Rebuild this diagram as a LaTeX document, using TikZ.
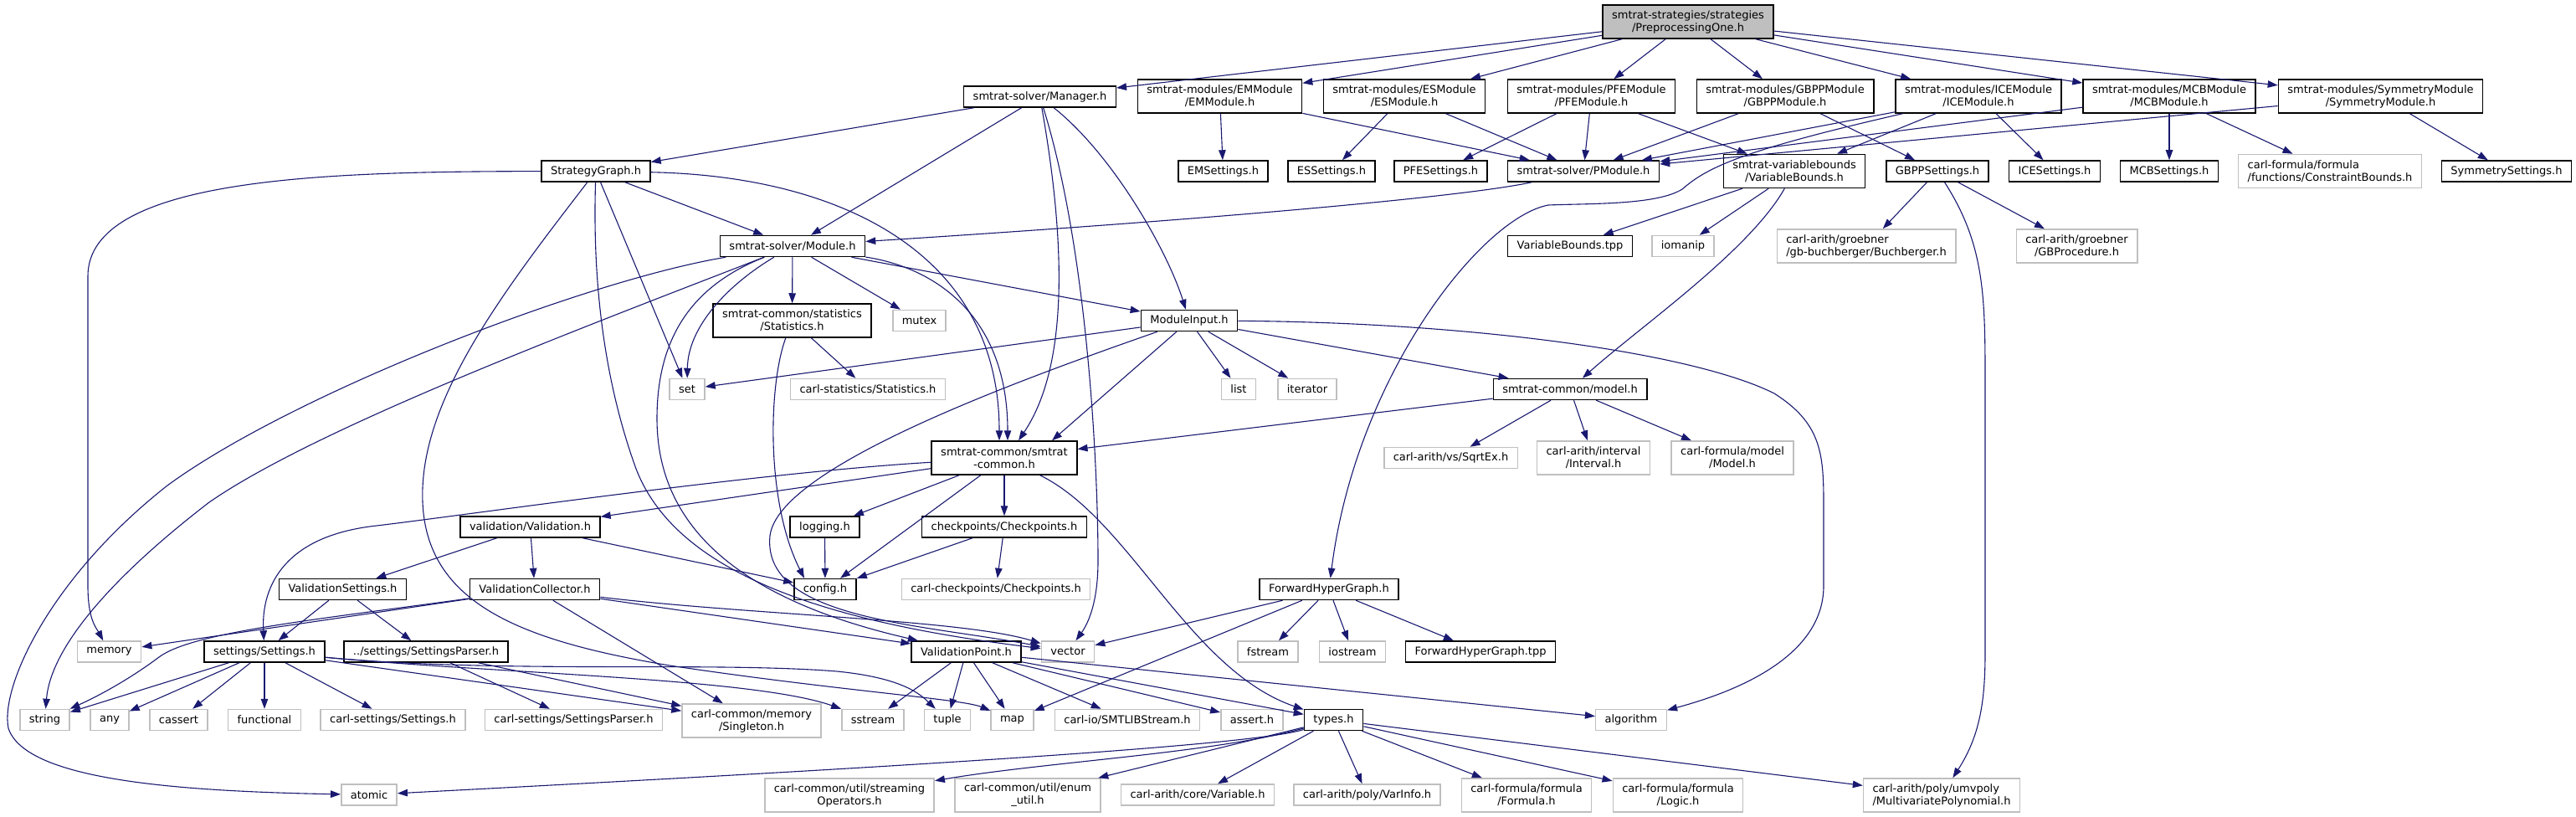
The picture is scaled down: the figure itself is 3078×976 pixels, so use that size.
\documentclass[tikz,border=0pt]{standalone}
\usepackage{fontspec}
\setmainfont{DejaVu Sans}
\usepackage{tikz}
\usetikzlibrary{arrows.meta,positioning}
\usepackage{xcolor}
\definecolor{edgeblue}{RGB}{25,25,112}
\definecolor{extgray}{RGB}{191,191,191}
\tikzset{
    hdr/.style={rectangle, draw=black, fill=white, line width=1.5pt,
                inner xsep=11pt, inner ysep=1pt, minimum height=25pt,
                align=center, font=\fontsize{13}{15}\selectfont},
    ext/.style={hdr, draw=extgray},
    cur/.style={hdr, fill=extgray},
    two/.style={minimum height=40pt},
    dep/.style={-{Triangle[length=12pt,width=8.5pt]}, line width=1.1pt, draw=edgeblue},
}

\begin{document}
\begin{tikzpicture}[x=1pt,y=-1pt]
    \useasboundingbox (0,0) rectangle (3078,976);

    % headers
    \node[cur,two] (p1)   at (2017,26)    {smtrat-strategies/strategies\\/PreprocessingOne.h};
    \node[hdr]     (mgr)  at (1242.5,115.5) {smtrat-solver/Manager.h};
    \node[hdr,two] (em)   at (1457.5,115) {smtrat-modules/EMModule\\/EMModule.h};
    \node[hdr,two] (es)   at (1678,115)   {smtrat-modules/ESModule\\/ESModule.h};
    \node[hdr,two] (pfe)  at (1901.5,115) {smtrat-modules/PFEModule\\/PFEModule.h};
    \node[hdr,two] (gbpp) at (2133,115)   {smtrat-modules/GBPPModule\\/GBPPModule.h};
    \node[hdr,two] (ice)  at (2364,115)   {smtrat-modules/ICEModule\\/ICEModule.h};
    \node[hdr,two] (mcb)  at (2592,115)   {smtrat-modules/MCBModule\\/MCBModule.h};
    \node[hdr,two] (sym)  at (2844.5,115) {smtrat-modules/SymmetryModule\\/SymmetryModule.h};

    \node[hdr]     (sg)      at (712,204.5)    {StrategyGraph.h};
    \node[hdr]     (ems)     at (1461.5,204.5) {EMSettings.h};
    \node[hdr]     (ess)     at (1591,204.5)   {ESSettings.h};
    \node[hdr]     (pfes)    at (1721.5,204.5) {PFESettings.h};
    \node[hdr]     (pmod)    at (1892,204.5)   {smtrat-solver/PModule.h};
    \node[hdr,two] (vb)      at (2144,204.5)   {smtrat-variablebounds\\/VariableBounds.h};
    \node[hdr]     (gbpps)   at (2315,204.5)   {GBPPSettings.h};
    \node[hdr]     (ices)    at (2455,204.5)   {ICESettings.h};
    \node[hdr]     (mcbs)    at (2592,204.5)   {MCBSettings.h};
    \node[ext,two,align=left] (cbounds) at (2784,204.5) {carl-formula/formula\\/functions/ConstraintBounds.h};
    \node[hdr]     (syms)    at (2995,204.5)   {SymmetrySettings.h};

    \node[hdr]     (mod)     at (947,294)    {smtrat-solver/Module.h};
    \node[hdr]     (vbtpp)   at (1876,294)   {VariableBounds.tpp};
    \node[ext]     (iomanip) at (2011,294)   {iomanip};
    \node[ext,two,align=left] (buch) at (2230,294) {carl-arith/groebner\\/gb-buchberger/Buchberger.h};
    \node[ext,two] (gbproc)  at (2481.5,294) {carl-arith/groebner\\/GBProcedure.h};

    \node[hdr,two] (stats)   at (946.5,383)  {smtrat-common/statistics\\/Statistics.h};
    \node[ext]     (mutex)   at (1098.5,383) {mutex};
    \node[hdr]     (minput)  at (1421,383)   {ModuleInput.h};

    \node[ext]     (set)      at (821,465)   {set};
    \node[ext]     (cstats)   at (1037,465)  {carl-statistics/Statistics.h};
    \node[ext]     (list)     at (1480,465)  {list};
    \node[ext]     (iterator) at (1562,465)  {iterator};
    \node[hdr]     (model)    at (1876,465)  {smtrat-common/model.h};

    \node[hdr,two] (common)   at (1200,547)   {smtrat-common/smtrat\\-common.h};
    \node[ext]     (sqrtex)   at (1733.5,547) {carl-arith/vs/SqrtEx.h};
    \node[ext,two] (interval) at (1904,547)   {carl-arith/interval\\/Interval.h};
    \node[ext,two] (cmodel)   at (2070,547)   {carl-formula/model\\/Model.h};

    \node[hdr]     (valid)    at (633.5,629.5) {validation/Validation.h};
    \node[hdr]     (logging)  at (985.5,629.5) {logging.h};
    \node[hdr]     (checkp)   at (1200,629.5)  {checkpoints/Checkpoints.h};

    \node[hdr]     (vsettings) at (409.5,704) {ValidationSettings.h};
    \node[hdr]     (vcoll)     at (639,704)   {ValidationCollector.h};
    \node[hdr]     (config)    at (986,704)   {config.h};
    \node[ext]     (ccheck)    at (1190,704)  {carl-checkpoints/Checkpoints.h};
    \node[hdr]     (fhg)       at (1588,704)  {ForwardHyperGraph.h};

    \node[ext]     (memory)   at (130.5,778.5)  {memory};
    \node[hdr]     (settings) at (316,778.5)    {settings/Settings.h};
    \node[hdr]     (sparser)  at (509,778.5)    {../settings/SettingsParser.h};
    \node[hdr]     (vpoint)   at (1154.5,778.5) {ValidationPoint.h};
    \node[ext]     (vector)   at (1276,778.5)   {vector};
    \node[ext]     (fstream)  at (1515,778.5)   {fstream};
    \node[ext]     (iostream) at (1616,778.5)   {iostream};
    \node[hdr]     (fhgtpp)   at (1769,778.5)   {ForwardHyperGraph.tpp};

    \node[ext]     (string)     at (53.5,860)  {string};
    \node[ext]     (any)        at (131,860)   {any};
    \node[ext]     (cassert)    at (213.5,860) {cassert};
    \node[ext]     (functional) at (316,860)   {functional};
    \node[ext]     (csettings)  at (469.5,860) {carl-settings/Settings.h};
    \node[ext]     (csparser)   at (685.5,860) {carl-settings/SettingsParser.h};
    \node[ext,two] (singleton)  at (898,861)   {carl-common/memory\\/Singleton.h};
    \node[ext]     (sstream)    at (1043,860)  {sstream};
    \node[ext]     (tuple)      at (1132,860)  {tuple};
    \node[ext]     (map)        at (1209.5,860) {map};
    \node[ext]     (smtlib)     at (1347,860)  {carl-io/SMTLIBStream.h};
    \node[ext]     (asserth)    at (1496,860)  {assert.h};
    \node[hdr]     (types)      at (1593.5,860) {types.h};
    \node[ext]     (algorithm)  at (1949,860)  {algorithm};

    \node[ext]     (atomic)   at (441,949.5)  {atomic};
    \node[ext,two] (streamop) at (1015,950)   {carl-common/util/streaming\\Operators.h};
    \node[ext,two] (enumutil) at (1228,950)   {carl-common/util/enum\\\_util.h};
    \node[ext]     (variable) at (1431,949.5) {carl-arith/core/Variable.h};
    \node[ext]     (varinfo)  at (1633.5,949.5) {carl-arith/poly/VarInfo.h};
    \node[ext,two] (formula)  at (1824,950)   {carl-formula/formula\\/Formula.h};
    \node[ext,two] (logic)    at (2005,950)   {carl-formula/formula\\/Logic.h};
    \node[ext,two,align=left] (mpoly) at (2320,950) {carl-arith/poly/umvpoly\\/MultivariatePolynomial.h};

    % includes of the strategy
    \draw[dep] (p1) -- (mgr);
    \draw[dep] (p1) -- (em);
    \draw[dep] (p1) -- (es);
    \draw[dep] (p1) -- (pfe);
    \draw[dep] (p1) -- (gbpp);
    \draw[dep] (p1) -- (ice);
    \draw[dep] (p1) -- (mcb);
    \draw[dep] (p1) -- (sym);

    \draw[dep] (mgr) -- (sg);
    \draw[dep] (mgr) -- (mod);
    \draw[dep] (mgr) .. controls (1275,300) and (1275,440) .. ([xshift=17pt]common.north);
    \draw[dep] (mgr) .. controls (1300,300) and (1312,560) .. (1312,670) .. controls (1312,720) and (1300,745) .. (vector);
    \draw[dep] (mgr) .. controls (1330,185) and (1395,300) .. (minput);

    % modules
    \draw[dep] (em) -- (ems);
    \draw[dep] (em) -- (pmod);
    \draw[dep] (es) -- (ess);
    \draw[dep] (es) -- (pmod);
    \draw[dep] (pfe) -- (pfes);
    \draw[dep] (pfe) -- (pmod);
    \draw[dep] (pfe) -- (vb);
    \draw[dep] (gbpp) -- (pmod);
    \draw[dep] (gbpp) -- (gbpps);
    \draw[dep] (ice) -- (pmod);
    \draw[dep] (ice) -- (vb);
    \draw[dep] (ice) -- (ices);
    \draw[dep] (ice) .. controls (2080,180) and (2040,200) .. (2010,226)
                     .. controls (1980,245) and (1900,243) .. (1850,245)
                     .. controls (1770,260) and (1620,450) .. (fhg);
    \draw[dep] (mcb) -- (pmod);
    \draw[dep] (mcb) -- (mcbs);
    \draw[dep] (mcb) -- (cbounds);
    \draw[dep] (sym) -- (pmod);
    \draw[dep] (sym) -- (syms);

    \draw[dep] (pmod) .. controls (1750,235) and (1450,262) .. (mod);
    \draw[dep] (vb) -- (vbtpp);
    \draw[dep] (vb) -- (iomanip);
    \draw[dep] (vb) .. controls (2090,300) and (1960,390) .. (model);
    \draw[dep] (gbpps) -- (buch);
    \draw[dep] (gbpps) -- (gbproc);
    \draw[dep] (gbpps) .. controls (2370,290) and (2372,350) .. (2372,450) -- (2372,780)
                       .. controls (2372,840) and (2365,880) .. (mpoly);

    % strategy graph
    \draw[dep] (sg) .. controls (400,205) and (105,210) .. (105,330) -- (105,700)
                    .. controls (105,740) and (115,750) .. (memory);
    \draw[dep] (sg) -- (mod);
    \draw[dep] (sg) -- (set);
    \draw[dep] (sg) .. controls (1000,210) and (1194,300) .. ([xshift=-6pt]common.north);
    \draw[dep] (sg) .. controls (708,330) and (720,450) .. (760,560)
                    .. controls (810,690) and (1000,745) .. (vector);
    \draw[dep] (sg) .. controls (600,350) and (500,480) .. (505,600)
                    .. controls (510,720) and (620,765) .. (800,795)
                    .. controls (1000,825) and (1150,835) .. (map);

    % solver module
    \draw[dep] (mod) -- (stats);
    \draw[dep] (mod) -- (mutex);
    \draw[dep] (mod) -- (minput);
    \draw[dep] (mod) .. controls (1120,320) and (1204,380) .. ([xshift=4pt]common.north);
    \draw[dep] (mod) .. controls (870,340) and (822,390) .. (set);
    \draw[dep] (mod) .. controls (700,390) and (380,510) .. (250,600)
                     .. controls (120,700) and (60,780) .. (string);
    \draw[dep] (mod) .. controls (700,335) and (350,470) .. (200,580)
                     .. controls (60,690) and (0,820) .. (10,870)
                     .. controls (30,930) and (200,945) .. (atomic);
    \draw[dep] (mod) .. controls (830,340) and (785,400) .. (785,500)
                     .. controls (785,640) and (900,720) .. (vpoint);

    \draw[dep] (stats) -- (cstats);
    \draw[dep] (stats) .. controls (918,460) and (915,600) .. ([xshift=-25pt]config.north);

    % module input
    \draw[dep] (minput) -- (set);
    \draw[dep] (minput) -- (list);
    \draw[dep] (minput) -- (iterator);
    \draw[dep] (minput) -- (model);
    \draw[dep] (minput) -- ([xshift=57pt]common.north);
    \draw[dep] (minput) .. controls (1200,460) and (930,560) .. (920,640)
                        .. controls (910,740) and (1100,745) .. (vector);
    \draw[dep] (minput) .. controls (1750,385) and (2020,420) .. (2120,470)
                        .. controls (2175,505) and (2179,540) .. (2179,600) -- (2179,700)
                        .. controls (2179,790) and (2060,830) .. (algorithm);

    \draw[dep] (model) -- (common);
    \draw[dep] (model) -- (sqrtex);
    \draw[dep] (model) -- (interval);
    \draw[dep] (model) -- (cmodel);

    % smtrat-common
    \draw[dep] (common) -- (valid);
    \draw[dep] (common) .. controls (900,565) and (560,615) .. (450,628)
                        .. controls (340,640) and (312,700) .. (settings);
    \draw[dep] (common) -- (logging);
    \draw[dep] (common) -- (checkp);
    \draw[dep] (common) -- (config);
    \draw[dep] (common) .. controls (1350,620) and (1420,800) .. (types);

    \draw[dep] (checkp) -- (config);
    \draw[dep] (checkp) -- (ccheck);
    \draw[dep] (logging) -- (config);

    % validation
    \draw[dep] (valid) -- (vsettings);
    \draw[dep] (valid) -- (vcoll);
    \draw[dep] (valid) -- (config);
    \draw[dep] (vsettings) -- (settings);
    \draw[dep] (vsettings) -- (sparser);
    \draw[dep] (vcoll) -- (memory);
    \draw[dep] (vcoll) .. controls (380,740) and (230,755) .. (190,785)
                       .. controls (150,815) and (110,835) .. (string);
    \draw[dep] (vcoll) -- (singleton);
    \draw[dep] (vcoll) -- (vpoint);
    \draw[dep] (vcoll) .. controls (900,735) and (1150,740) .. (vector);

    % settings
    \draw[dep] (settings) -- (string);
    \draw[dep] (settings) -- (any);
    \draw[dep] (settings) -- (cassert);
    \draw[dep] (settings) -- (functional);
    \draw[dep] (settings) -- (csettings);
    \draw[dep] (settings) -- (singleton);
    \draw[dep] (settings) .. controls (600,805) and (900,810) .. (sstream);
    \draw[dep] (settings) .. controls (600,805) and (850,790) .. (1000,802)
                          .. controls (1080,810) and (1100,830) .. (tuple);
    \draw[dep] (sparser) -- (csparser);
    \draw[dep] (sparser) -- (singleton);

    % validation point
    \draw[dep] (vpoint) -- (sstream);
    \draw[dep] (vpoint) -- (tuple);
    \draw[dep] (vpoint) -- (map);
    \draw[dep] (vpoint) -- (smtlib);
    \draw[dep] (vpoint) -- (asserth);
    \draw[dep] (vpoint) -- (types);
    \draw[dep] (vpoint) -- (algorithm);

    \draw[dep] (fhg) -- (vector);
    \draw[dep] (fhg) -- (map);
    \draw[dep] (fhg) -- (fstream);
    \draw[dep] (fhg) -- (iostream);
    \draw[dep] (fhg) -- (fhgtpp);

    % types
    \draw[dep] (types) .. controls (1500,890) and (1100,915) .. (atomic);
    \draw[dep] (types) .. controls (1450,900) and (1250,910) .. (streamop);
    \draw[dep] (types) -- (enumutil);
    \draw[dep] (types) -- (variable);
    \draw[dep] (types) -- (varinfo);
    \draw[dep] (types) -- (formula);
    \draw[dep] (types) -- (logic);
    \draw[dep] (types) -- (mpoly);
\end{tikzpicture}
\end{document}
